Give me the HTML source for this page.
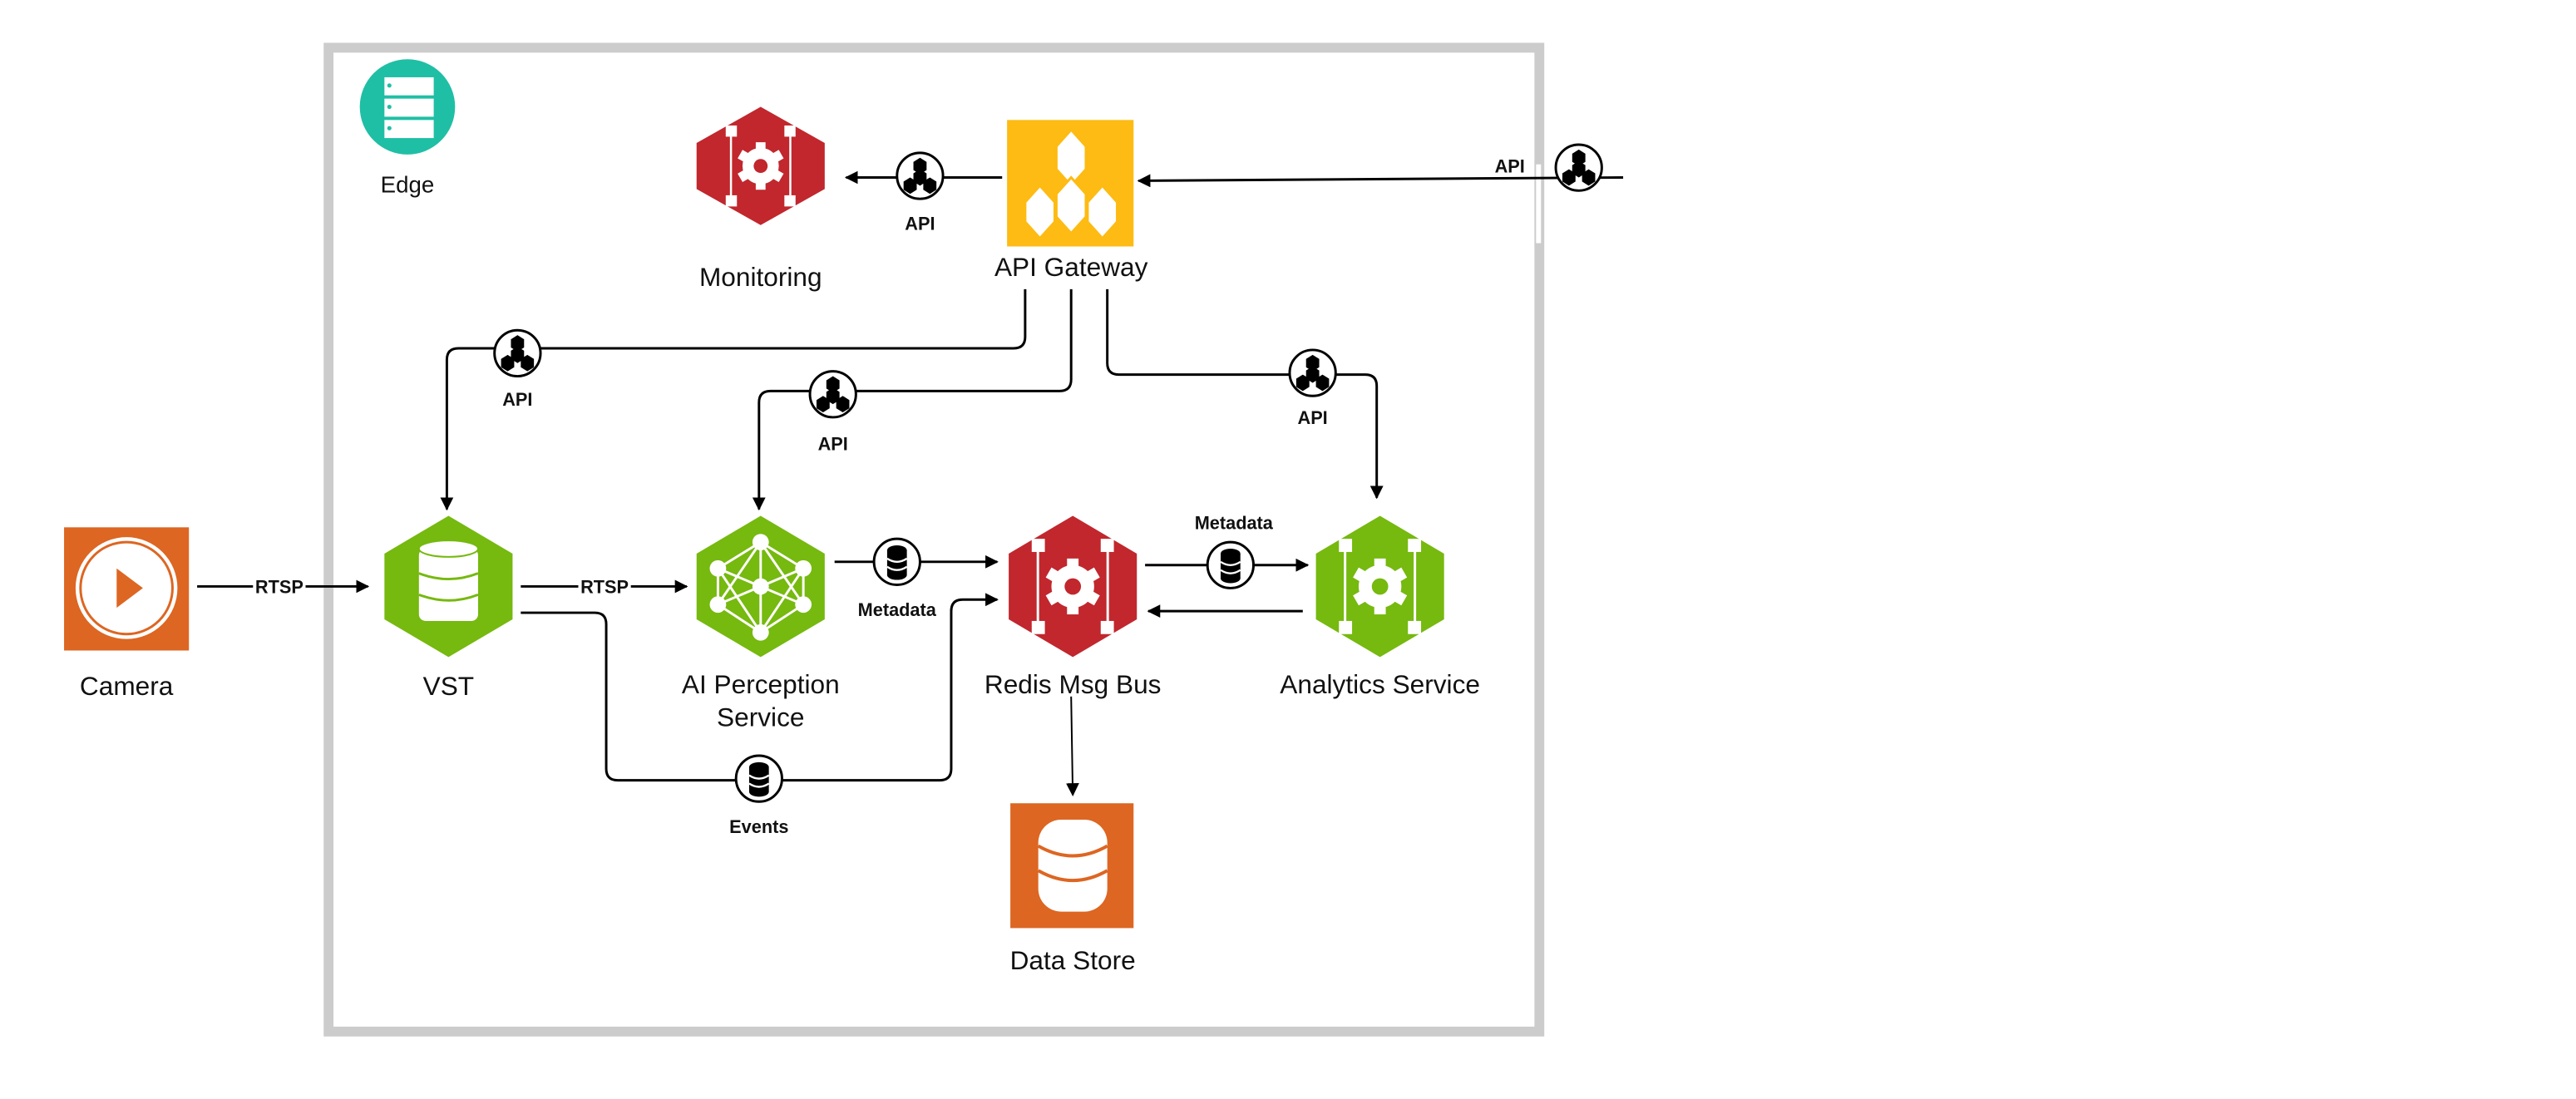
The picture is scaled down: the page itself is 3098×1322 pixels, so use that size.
<!DOCTYPE html>
<html><head><meta charset="utf-8"><style>
html,body{margin:0;padding:0;background:#fff;}
svg{display:block;}
text{font-family:"Liberation Sans",sans-serif;fill:#111;}
</style></head><body>
<svg width="3098" height="1322" viewBox="0 0 1568 669" xmlns="http://www.w3.org/2000/svg">
<defs>
<marker id="ar" viewBox="0 0 10 10" refX="9" refY="5" markerWidth="8" markerHeight="8" orient="auto" markerUnits="userSpaceOnUse"><path d="M0,0 L10,5 L0,10 z" fill="#000"/></marker>
<g id="apic"><circle r="14" fill="#fff" stroke="#000" stroke-width="1.5"/>
<polygon points="0,-11 4,-8.5 4,-3.5 0,-1 -4,-3.5 -4,-8.5" fill="#000"/>
<polygon points="0,-4 4,-1.5 4,3.5 0,6 -4,3.5 -4,-1.5" fill="#000"/>
<polygon points="-6,1 -2,3.5 -2,8.5 -6,11 -10,8.5 -10,3.5" fill="#000"/>
<polygon points="6,1 10,3.5 10,8.5 6,11 2,8.5 2,3.5" fill="#000"/></g>
<g id="dbc"><circle r="14" fill="#fff" stroke="#000" stroke-width="1.5"/>
<ellipse cx="0" cy="-7" rx="6" ry="3" fill="#000"/><rect x="-6" y="-7" width="12" height="15" fill="#000"/><ellipse cx="0" cy="8" rx="6" ry="3" fill="#000"/>
<path d="M-6,-2 Q0,2 6,-2 M-6,3 Q0,7 6,3" stroke="#fff" stroke-width="1.2" fill="none"/></g>
<g id="gear"><circle r="13" fill="#fff"/><g fill="#fff"><rect x="-3.5" y="-17" width="7" height="34"/><rect x="-17" y="-3.5" width="34" height="7" transform="rotate(30)"/><rect x="-17" y="-3.5" width="34" height="7" transform="rotate(-30)"/></g><circle r="5" fill="currentColor"/></g>
<g id="frame" fill="#fff"><rect x="-25" y="-29" width="8" height="8"/><rect x="17" y="-29" width="8" height="8"/><rect x="-25" y="21" width="8" height="8"/><rect x="17" y="21" width="8" height="8"/><rect x="-22" y="-22" width="1.5" height="44"/><rect x="20.5" y="-22" width="1.5" height="44"/></g>
</defs>
<!-- frame -->
<rect x="200" y="29" width="737" height="599" fill="none" stroke="#cccccc" stroke-width="6"/>
<rect x="935" y="100" width="3" height="48" fill="#fff"/>
<!-- Edge -->
<circle cx="248" cy="65" r="29" fill="#1fbfa5"/>
<g fill="#fff"><rect x="234" y="47" width="30" height="11"/><rect x="234" y="60" width="30" height="11"/><rect x="234" y="73" width="30" height="11"/></g>
<g fill="#1fbfa5"><circle cx="237" cy="52" r="1.3"/><circle cx="237" cy="65" r="1.3"/><circle cx="237" cy="78" r="1.3"/></g>
<text x="248" y="117" font-size="14" text-anchor="middle">Edge</text>
<!-- connectors -->
<g stroke="#000" stroke-width="1.5" fill="none">
<line x1="610" y1="108" x2="515" y2="108" marker-end="url(#ar)"/>
<line x1="988" y1="108" x2="693" y2="110" marker-end="url(#ar)"/>
<path d="M624,176 V205 Q624,212 617,212 H279 Q272,212 272,219 V310" marker-end="url(#ar)"/>
<path d="M652,176 V231 Q652,238 645,238 H469 Q462,238 462,245 V310" marker-end="url(#ar)"/>
<path d="M674,176 V221 Q674,228 681,228 H831 Q838,228 838,235 V303" marker-end="url(#ar)"/>
<line x1="120" y1="357" x2="224" y2="357" marker-end="url(#ar)"/>
<line x1="317" y1="357" x2="418" y2="357" marker-end="url(#ar)"/>
<line x1="508" y1="342" x2="607" y2="342" marker-end="url(#ar)"/>
<path d="M317,373 H362 Q369,373 369,380 V468 Q369,475 376,475 H572 Q579,475 579,468 V372 Q579,365 586,365 H607" marker-end="url(#ar)"/>
<line x1="697" y1="344" x2="796" y2="344" marker-end="url(#ar)"/>
<line x1="793" y1="372" x2="699" y2="372" marker-end="url(#ar)"/>
<line x1="652" y1="424" x2="653" y2="484" marker-end="url(#ar)" stroke-width="1"/>
</g>
<use href="#apic" x="560" y="107"/><use href="#apic" x="961" y="102"/>
<use href="#apic" x="315" y="215"/><use href="#apic" x="507" y="240"/><use href="#apic" x="799" y="227"/>
<use href="#dbc" x="546" y="342"/><use href="#dbc" x="749" y="344"/><use href="#dbc" x="462" y="474"/>
<g font-size="11" text-anchor="middle" font-weight="bold">
<text x="560" y="140">API</text><text x="919" y="105">API</text>
<text x="315" y="247">API</text><text x="507" y="274">API</text><text x="799" y="258">API</text>
<rect x="154" y="351" width="32" height="12" fill="#fff"/><text x="170" y="361">RTSP</text>
<rect x="352" y="351" width="32" height="12" fill="#fff"/><text x="368" y="361">RTSP</text>
<text x="546" y="375">Metadata</text><text x="751" y="322">Metadata</text><text x="462" y="507">Events</text>
</g>
<!-- Monitoring -->
<polygon points="463,65 502,87 502,115 463,137 424,115 424,87" fill="#c1272d"/>
<g transform="translate(463,101) scale(0.85)" color="#c1272d"><use href="#frame"/><use href="#gear"/></g>
<text x="463" y="174" font-size="16" text-anchor="middle">Monitoring</text>
<!-- API Gateway -->
<rect x="613" y="73" width="77" height="77" fill="#fdbb13"/>
<g fill="#fff" stroke="#fdbb13" stroke-width="1.5">
<polygon points="652,79 661,89 661,103 652,113 643,103 643,89"/>
<polygon points="652,108 661,118 661,132 652,142 643,132 643,118"/>
<polygon points="633,113 642,123 642,135 633,145 624,135 624,123"/>
<polygon points="671,113 680,123 680,135 671,145 662,135 662,123"/>
</g>
<text x="652" y="168" font-size="16" text-anchor="middle">API Gateway</text>
<!-- Camera -->
<rect x="39" y="321" width="76" height="75" fill="#dd6622"/>
<circle cx="77" cy="358" r="31" fill="#fff"/><circle cx="77" cy="358" r="28" fill="none" stroke="#dd6622" stroke-width="1.5"/>
<polygon points="71,346 87,358 71,370" fill="#dd6622"/>
<text x="77" y="423" font-size="16" text-anchor="middle">Camera</text>
<!-- VST -->
<polygon points="273,314 312,337 312,377 273,400 234,377 234,337" fill="#76b90f"/>
<rect x="255" y="334" width="36" height="44" rx="4" fill="#fff"/>
<ellipse cx="273" cy="334" rx="18" ry="5" fill="#fff" stroke="#76b90f" stroke-width="1"/>
<path d="M255,349 Q273,356 291,349 M255,362 Q273,369 291,362" stroke="#76b90f" stroke-width="1.5" fill="none"/>
<text x="273" y="423" font-size="16" text-anchor="middle">VST</text>
<!-- AI Perception -->
<polygon points="463,314 502,337 502,377 463,400 424,377 424,337" fill="#76b90f"/>
<g stroke="#fff" stroke-width="1.5" fill="none">
<path d="M463,330 L437,346 M463,330 L489,346 M463,330 L437,368 M463,330 L489,368 M463,330 V385 M437,346 L463,357 L489,346 M437,368 L463,357 L489,368 M437,346 L489,368 M489,346 L437,368 M437,346 V368 M489,346 V368 M437,368 L463,385 L489,368 M437,346 L463,385 M489,346 L463,385"/>
</g>
<g fill="#fff"><circle cx="463" cy="330" r="5"/><circle cx="437" cy="346" r="5"/><circle cx="489" cy="346" r="5"/><circle cx="463" cy="357" r="5"/><circle cx="437" cy="368" r="5"/><circle cx="489" cy="368" r="5"/><circle cx="463" cy="385" r="5"/></g>
<text x="463" y="422" font-size="16" text-anchor="middle">AI Perception</text>
<text x="463" y="442" font-size="16" text-anchor="middle">Service</text>
<!-- Redis -->
<polygon points="653,314 692,337 692,377 653,400 614,377 614,337" fill="#c1272d"/>
<g transform="translate(653,357)" color="#c1272d"><use href="#frame"/><use href="#gear"/></g>
<text x="653" y="422" font-size="16" text-anchor="middle">Redis Msg Bus</text>
<!-- Analytics -->
<polygon points="840,314 879,337 879,377 840,400 801,377 801,337" fill="#76b90f"/>
<g transform="translate(840,357)" color="#76b90f"><use href="#frame"/><use href="#gear"/></g>
<text x="840" y="422" font-size="16" text-anchor="middle">Analytics Service</text>
<!-- Data Store -->
<rect x="615" y="489" width="75" height="76" fill="#dd6622"/>
<rect x="632" y="499" width="42" height="56" rx="14" fill="#fff"/>
<path d="M632,515 Q653,527 674,515 M632,530 Q653,542 674,530" stroke="#dd6622" stroke-width="2" fill="none"/>
<text x="653" y="590" font-size="16" text-anchor="middle">Data Store</text>
</svg>
</body></html>
